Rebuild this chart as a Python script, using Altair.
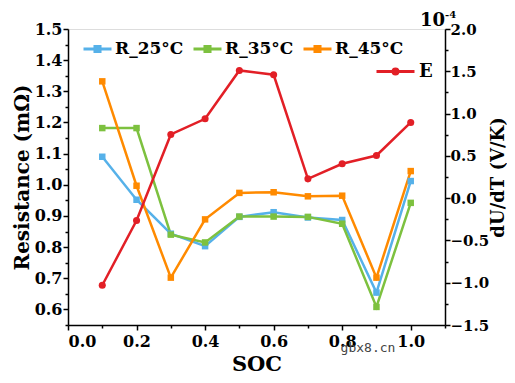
import altair as alt
import pandas as pd

soc = [0.1, 0.2, 0.3, 0.4, 0.5, 0.6, 0.7, 0.8, 0.9, 1.0]
r25 = [1.09, 0.952, 0.843, 0.803, 0.897, 0.912, 0.895, 0.887, 0.654, 1.012]
r35 = [1.182, 1.182, 0.840, 0.815, 0.898, 0.898, 0.897, 0.875, 0.608, 0.942]
r45 = [1.332, 0.997, 0.702, 0.889, 0.974, 0.976, 0.963, 0.965, 0.702, 1.044]
e_vals = [-1.03, -0.265, 0.753, 0.938, 1.51, 1.459, 0.228, 0.406, 0.504, 0.895]

r_names = ["R_25°C", "R_35°C", "R_45°C"]
r_colors = ["#56B1E9", "#7DC13F", "#FF8A00"]
e_name = ["E"]
e_color = ["#E21F26"]

FONT = "DejaVu Serif"

rows = []
for name, vals in zip(r_names, [r25, r35, r45]):
    for s, v in zip(soc, vals):
        rows.append({"SOC": s, "R": v, "series": name})
df_r = pd.DataFrame(rows)
df_e = pd.DataFrame({"SOC": soc, "E": e_vals, "series": ["E"] * len(soc)})

x_ticks = [round(i * 0.1, 2) for i in range(12)]
yl_ticks = [round(0.55 + i * 0.05, 2) for i in range(20)]
yr_ticks = [round(-1.5 + i * 0.25, 2) for i in range(15)]

x_axis = alt.Axis(
    values=x_ticks, title="SOC", grid=False,
    labelExpr="abs(round(datum.value*10)%2)==0 ? format(datum.value,'.1f') : ''",
    tickSize={"condition": {"test": "abs(round(datum.value*10)%2)==0", "value": 5}, "value": 3},
    labelFont=FONT, labelFontWeight="bold", labelFontSize=16, labelColor="black",
    titleFont=FONT, titleFontWeight="bold", titleFontSize=21, titleColor="black",
    labelPadding=3, titlePadding=4, domainColor="black", tickColor="black",
    domainWidth=1.5, tickWidth=1.5,
)
yl_axis = alt.Axis(
    values=yl_ticks, title="Resistance (mΩ)", grid=False,
    labelExpr="abs(round(datum.value*20)%2)==0 ? format(datum.value,'.1f') : ''",
    tickSize={"condition": {"test": "abs(round(datum.value*20)%2)==0", "value": 5}, "value": 3},
    labelFont=FONT, labelFontWeight="bold", labelFontSize=16, labelColor="black",
    titleFont=FONT, titleFontWeight="bold", titleFontSize=20, titleColor="black",
    labelPadding=1, titlePadding=2, domainColor="black", tickColor="black",
    domainWidth=1.5, tickWidth=1.5,
)
yr_axis = alt.Axis(
    values=yr_ticks, title="dU/dT (V/K)", grid=False, orient="right",
    labelExpr="abs(round(datum.value*4)%2)==0 ? format(datum.value,'.1f') : ''",
    tickSize={"condition": {"test": "abs(round(datum.value*4)%2)==0", "value": 5}, "value": 3},
    labelFont=FONT, labelFontWeight="bold", labelFontSize=15, labelColor="black",
    titleFont=FONT, titleFontWeight="bold", titleFontSize=18, titleColor="black",
    titleAngle=270, titleBaseline="top", labelPadding=0, titlePadding=1,
    domainColor="black", tickColor="black",
    domainWidth=1.5, tickWidth=1.5,
)

x_enc = alt.X("SOC:Q", scale=alt.Scale(domain=[0, 1.1], nice=False, zero=False), axis=x_axis)

r_legend = alt.Legend(
    orient="none", legendX=14, legendY=4, direction="horizontal", columns=3,
    title=None, padding=0, columnPadding=3, labelOffset=2,
    symbolType="M-1,0H1M-0.18,-0.18H0.18V0.18H-0.18Z", symbolSize=784, symbolStrokeWidth=3,
    labelFont=FONT, labelFontWeight="bold", labelFontSize=17, labelColor="black",
)
e_legend = alt.Legend(
    orient="none", legendX=307, legendY=22, title=None, padding=0, labelOffset=3,
    symbolType="M-1,0H1M0.13,0A0.13,0.13 0 1,1 -0.13,0A0.13,0.13 0 1,1 0.13,0Z",
    symbolSize=1444, symbolStrokeWidth=3,
    labelFont=FONT, labelFontWeight="bold", labelFontSize=18, labelColor="black",
)

r_chart = alt.Chart(df_r).mark_line(
    strokeWidth=2.5,
    point=alt.OverlayMarkDef(shape="square", size=42, filled=True),
).encode(
    x=x_enc,
    y=alt.Y("R:Q", scale=alt.Scale(domain=[0.55, 1.5], nice=False, zero=False), axis=yl_axis),
    color=alt.Color("series:N", scale=alt.Scale(domain=r_names, range=r_colors), legend=r_legend),
    detail="series:N",
)

e_chart = alt.Chart(df_e).mark_line(
    strokeWidth=2.5,
    point=alt.OverlayMarkDef(shape="circle", size=50, filled=True),
).encode(
    x=x_enc,
    y=alt.Y("E:Q", scale=alt.Scale(domain=[-1.5, 2.0], nice=False, zero=False), axis=yr_axis),
    color=alt.Color("series:N", scale=alt.Scale(domain=e_name, range=e_color), legend=e_legend),
)

exp_base = alt.Chart(pd.DataFrame({"t": ["10"]})).mark_text(
    font=FONT, fontWeight="bold", fontSize=18, align="right", baseline="alphabetic", color="black"
).encode(text="t:N", x=alt.value(377), y=alt.value(-3))
exp_sup = alt.Chart(pd.DataFrame({"t": ["-4"]})).mark_text(
    font=FONT, fontWeight="bold", fontSize=10, align="left", baseline="alphabetic", color="black"
).encode(text="t:N", x=alt.value(377), y=alt.value(-11))
watermark = alt.Chart(pd.DataFrame({"t": ["gbx8.cn"]})).mark_text(
    font="DejaVu Sans Mono", fontSize=13, align="center", baseline="alphabetic", color="#444444"
).encode(text="t:N", x=alt.value(300), y=alt.value(323))

chart = alt.layer(r_chart, e_chart, exp_base, exp_sup, watermark).resolve_scale(
    y="independent", color="independent"
).properties(
    width=377, height=296,
    autosize=alt.AutoSizeParams(type="none"),
    padding={"left": 60, "top": 21, "right": 62, "bottom": 50},
).configure_view(
    stroke="black", strokeWidth=1.5
).configure(background="white")

chart.save("out.html", embed_options={"renderer": "svg", "actions": False})
